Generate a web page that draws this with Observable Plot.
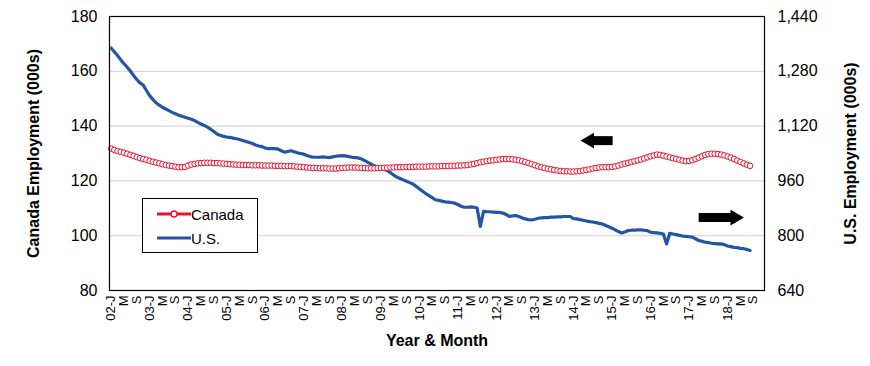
<!DOCTYPE html>
<html><head><meta charset="utf-8">
<script src="https://cdn.jsdelivr.net/npm/d3@7"></script>
<script src="https://cdn.jsdelivr.net/npm/@observablehq/plot@0.6"></script>
<style>
body{margin:0;background:#fff;font-family:"Liberation Sans",Arial,sans-serif}
#wrap{position:relative;width:870px;height:366px}
.legend{position:absolute;left:142px;top:198px;width:114px;height:53px;border:1px solid #000;background:#fff;font-size:15px;color:#000}
.legend .row{position:absolute;left:14px;display:flex;align-items:center;height:16px}
.legend svg{display:block}
</style></head><body><div id="wrap"></div>
<script>
const canada = [
131.8,131.3,130.9,130.6,130.3,129.9,129.5,129.1,128.7,128.3,128.0,127.7,
127.3,127.0,126.7,126.4,126.1,125.8,125.6,125.4,125.2,125.0,125.0,125.1,
125.6,126.0,126.2,126.4,126.5,126.6,126.6,126.6,126.5,126.5,126.4,126.3,
126.2,126.1,126.0,125.9,125.9,125.8,125.8,125.8,125.7,125.7,125.7,125.6,
125.6,125.6,125.6,125.5,125.5,125.5,125.4,125.4,125.4,125.3,125.2,125.1,
125.0,124.9,124.8,124.7,124.7,124.6,124.6,124.6,124.5,124.5,124.5,124.6,
124.7,124.8,124.9,124.9,124.9,124.8,124.7,124.7,124.6,124.6,124.6,124.7,
124.7,124.8,124.8,124.9,124.9,125.0,125.0,125.0,125.1,125.1,125.1,125.2,
125.2,125.2,125.2,125.3,125.3,125.3,125.3,125.4,125.4,125.4,125.5,125.5,
125.6,125.6,125.7,125.8,126.0,126.2,126.5,126.8,127.0,127.2,127.4,127.5,
127.7,127.8,128.0,128.0,128.0,127.9,127.7,127.5,127.2,126.9,126.5,126.1,
125.7,125.3,125.0,124.7,124.4,124.2,124.0,123.8,123.6,123.5,123.5,123.4,
123.4,123.5,123.6,123.8,124.0,124.2,124.5,124.7,124.9,125.0,125.0,125.0,
125.1,125.3,125.6,126.0,126.3,126.6,126.9,127.2,127.5,127.8,128.2,128.6,
129.0,129.3,129.6,129.5,129.2,128.9,128.6,128.3,128.0,127.7,127.4,127.2,
127.3,127.6,128.0,128.5,129.0,129.5,129.8,129.9,129.9,129.8,129.6,129.3,
128.9,128.5,128.0,127.4,126.9,126.4,125.9,125.5
];
const us = [
1348,1337,1326,1314,1302,1292,1281,1268,1256,1246,1240,1224,
1209,1198,1188,1181,1175,1170,1165,1160,1156,1152,1149,1146,
1143,1140,1136,1131,1126,1122,1117,1111,1104,1097,1093,1090,
1088,1087,1085,1083,1081,1078,1075,1072,1069,1065,1062,1060,
1056,1054,1054,1054,1053,1048,1044,1046,1048,1045,1042,1040,
1038,1034,1031,1029,1029,1029,1030,1029,1028,1030,1032,1033,
1034,1033,1031,1029,1028,1027,1024,1019,1014,1009,1004,1000,
997,994,990,984,977,971,967,963,959,955,951,944,
937,930,923,917,911,905,903,901,899,898,897,895,
891,886,883,883,884,883,881,827,871,870,870,869,
868,868,866,862,856,858,859,856,852,849,847,846,
848,851,852,853,853,854,854,855,855,856,856,856,
850,849,847,845,843,841,840,838,836,834,830,826,
822,817,812,808,811,815,816,816,817,817,816,815,
810,809,808,807,805,776,807,805,803,801,799,798,
797,796,791,786,784,781,780,778,777,776,776,774,
770,768,766,765,763,762,760,757
];
const tickLabels = ["02-J","M","S","03-J","M","S","04-J","M","S","05-J","M","S","06-J","M","S","07-J","M","S","08-J","M","S","09-J","M","S","10-J","M","S","11-J","M","S","12-J","M","S","13-J","M","S","14-J","M","S","15-J","M","S","16-J","M","S","17-J","M","S","18-J","M","S"];
const leftTicks = [80,100,120,140,160,180];
const rightTicks = [640,800,960,1120,1280,1440];
const nMonths = 204; // Jan 2002 .. Dec 2018 category slots
// annotation arrows: [x start, x end (month index), y (left scale), direction]
const arrows = [
  {x1: 149, x2: 156.2, y: 134.7, dir: "left"},
  {x1: 183, x2: 194.3, y: 106.6, dir: "right"}
];

const tickIdx = tickLabels.map((_, i) => i * 4);
const labelByIdx = new Map(tickIdx.map((t, i) => [t, tickLabels[i]]));
const canData = canada.map((v, i) => ({i, v}));
const usData = us.map((v, i) => ({i, v}));
const usToLeft = v => (v - 640) / 8 + 80;
const leftToUs = v => (v - 80) * 8 + 640;

const red = "#e8102c", blue = "#2455a4";
const font = '"Liberation Sans", Arial, sans-serif';

const chart = Plot.plot({
  width: 870, height: 366,
  marginLeft: 109, marginRight: 106, marginTop: 16, marginBottom: 76,
  style: {fontFamily: font, fontSize: "15px", color: "#000", background: "#fff"},
  x: {domain: [-0.5, nMonths - 0.5]},
  y: {domain: [80, 180]},
  marks: [
    Plot.gridY([100, 120, 140, 160], {stroke: "#d9d9d9", strokeOpacity: 1, strokeWidth: 1.3}),
    Plot.axisY({anchor: "left", ticks: leftTicks, tickSize: 0, tickPadding: 12, label: null, fontSize: 16}),
    Plot.axisY({anchor: "right", ticks: rightTicks.map(usToLeft), tickSize: 0, tickPadding: 13, label: null, fontSize: 16,
      tickFormat: d => d3.format(",")(leftToUs(d))}),
    Plot.axisX({ticks: tickIdx, tickFormat: d => labelByIdx.get(d), tickRotate: -90, tickSize: 0, tickPadding: 5, label: null, fontSize: 13}),
    Plot.line(usData, {x: "i", y: d => usToLeft(d.v), stroke: blue, strokeWidth: 3.2, strokeLinejoin: "round"}),
    Plot.dot(canData, {x: "i", y: "v", r: 2.8, stroke: red, strokeWidth: 1, fill: "#fff"}),
    Plot.link(arrows, {x1: "x1", x2: "x2", y1: "y", y2: "y", stroke: "#000", strokeWidth: 9}),
    Plot.dot(arrows, {x: d => d.dir === "left" ? d.x1 : d.x2, y: "y", symbol: "triangle", r: 5.8, fill: "#000",
      rotate: d => d.dir === "left" ? -90 : 90}),
    Plot.frame({stroke: "#000", strokeWidth: 1.2}),
    Plot.text(["Canada Employment (000s)"], {frameAnchor: "left", dx: -76, rotate: -90, textAnchor: "middle", fontWeight: "bold", fontSize: 16}),
    Plot.text(["U.S. Employment (000s)"], {frameAnchor: "right", dx: 86, rotate: -90, textAnchor: "middle", fontWeight: "bold", fontSize: 16}),
    Plot.text(["Year & Month"], {frameAnchor: "bottom", dy: 55, fontWeight: "bold", fontSize: 16})
  ]
});
const wrap = document.getElementById("wrap");
wrap.appendChild(chart);

const legend = document.createElement("div");
legend.className = "legend";
legend.innerHTML = `
<div class="row" style="top:7px"><svg width="34" height="12"><line x1="0" y1="6" x2="34" y2="6" stroke="${red}" stroke-width="3"/><circle cx="17" cy="6" r="3" fill="#fff" stroke="${red}" stroke-width="1.3"/></svg><span>Canada</span></div>
<div class="row" style="top:31px"><svg width="34" height="12"><line x1="0" y1="6" x2="34" y2="6" stroke="${blue}" stroke-width="3"/></svg><span>U.S.</span></div>`;
wrap.appendChild(legend);
</script></body></html>
